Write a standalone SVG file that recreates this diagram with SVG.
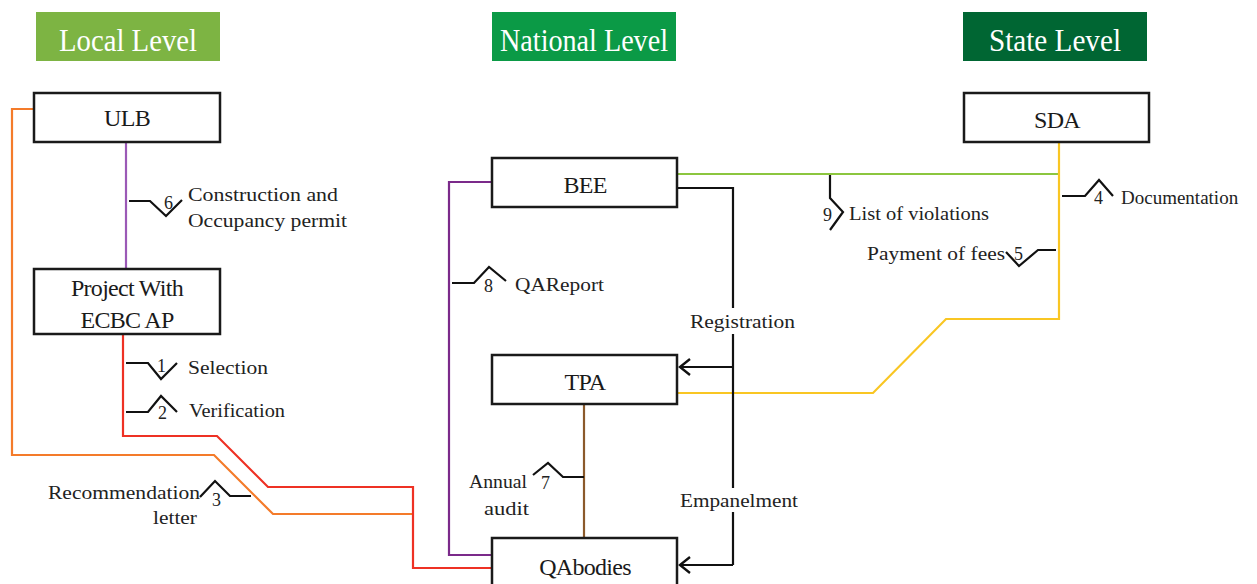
<svg xmlns="http://www.w3.org/2000/svg" width="1257" height="584" viewBox="0 0 1257 584">
<style>
text{font-family:"Liberation Serif","Times New Roman",Times,serif}
.hdr{font-size:32px;fill:#fff;text-anchor:middle}
.box{fill:#fff;stroke:#1a1a1a;stroke-width:2.5}
.bt{font-size:24px;fill:#1a1a1a;text-anchor:middle;letter-spacing:-0.7px}
.lt{font-size:19px;fill:#222}
.num{font-size:18px;fill:#222}
.ln{fill:none;stroke-width:2.2}
.zz{fill:none;stroke:#111;stroke-width:2.2}
</style>
<defs>
<marker id="arr" markerWidth="16" markerHeight="20" refX="12" refY="9" orient="auto" markerUnits="userSpaceOnUse">
<path d="M2,1 L12,9 L2,17" fill="none" stroke="#111" stroke-width="2.4"/>
</marker>
</defs>
<rect width="1257" height="584" fill="#fff"/>

<g id="hdr-local"><rect x="36" y="12" width="184" height="49" fill="#7db443"/><text class="hdr" x="128" y="51" textLength="138" lengthAdjust="spacingAndGlyphs">Local Level</text></g>
<g id="hdr-national"><rect x="492" y="12" width="184" height="49" fill="#0b9a46"/><text class="hdr" x="584" y="51" textLength="168" lengthAdjust="spacingAndGlyphs">National Level</text></g>
<g id="hdr-state"><rect x="963" y="12" width="184" height="49" fill="#006633"/><text class="hdr" x="1055" y="51" textLength="132" lengthAdjust="spacingAndGlyphs">State Level</text></g>

<g id="connectors">
<path class="ln" stroke="#f47b2a" d="M34,109 H12 V455 H214 L273,514 H413"/>
<path class="ln" stroke="#ee3124" d="M123,334 V436 H217 L268,487 H413 V568 H492"/>
<path class="ln" stroke="#9b59b6" d="M126,142 V269"/>
<path class="ln" stroke="#7b2a8a" d="M492,182 H449 V555 H492"/>
<path class="ln" stroke="#8cc63f" d="M677,174 H1059"/>
<path class="ln" stroke="#f9c623" d="M1059,142 V319 H946 L873,393 H677"/>
<path class="ln" stroke="#8b5a2b" d="M584,404 V538"/>
<path class="ln" stroke="#111" d="M677,188 H733 V308"/>
<path class="ln" stroke="#111" d="M733,334 V488"/>
<path class="ln" stroke="#111" d="M733,512 V565"/>
<path class="ln" stroke="#111" d="M733,367 H680" marker-end="url(#arr)"/>
<path class="ln" stroke="#111" d="M733,565 H680" marker-end="url(#arr)"/>
<path class="zz" d="M129,201 H150 L166,216 L182,200"/>
<path class="zz" d="M126,363 H148 L161,379 L177,363"/>
<path class="zz" d="M126,412 H148 L161,396 L177,412"/>
<path class="zz" d="M251,496 H230 L215,481 L200,497"/>
<path class="zz" d="M452,283 H474 L489,267 L506,281"/>
<path class="zz" d="M584,477 H563 L548,463 L533,475"/>
<path class="zz" d="M830,175 V198 L843,212 L830,230"/>
<path class="zz" d="M1062,196 H1085 L1099,180 L1113,196"/>
<path class="zz" d="M1056,250 H1038 L1019,266 L1006,252"/>
<text class="num" x="164" y="209">6</text>
<text class="lt" x="188" y="201" textLength="150" lengthAdjust="spacingAndGlyphs">Construction and</text>
<text class="lt" x="188" y="227" textLength="159" lengthAdjust="spacingAndGlyphs">Occupancy permit</text>
<text class="num" x="157" y="372">1</text>
<text class="lt" x="188" y="374" textLength="80" lengthAdjust="spacingAndGlyphs">Selection</text>
<text class="num" x="158" y="419">2</text>
<text class="lt" x="189" y="417" textLength="96" lengthAdjust="spacingAndGlyphs">Verification</text>
<text class="num" x="212" y="506">3</text>
<text class="lt" x="48" y="499" textLength="152" lengthAdjust="spacingAndGlyphs">Recommendation</text>
<text class="lt" x="153" y="524" textLength="44" lengthAdjust="spacingAndGlyphs">letter</text>
<text class="num" x="484" y="292">8</text>
<text class="lt" x="515" y="291" textLength="89" lengthAdjust="spacingAndGlyphs">QAReport</text>
<text class="lt" x="690" y="328" textLength="105" lengthAdjust="spacingAndGlyphs">Registration</text>
<text class="lt" x="680" y="507" textLength="118" lengthAdjust="spacingAndGlyphs">Empanelment</text>
<text class="num" x="541" y="489">7</text>
<text class="lt" x="469" y="488" textLength="58" lengthAdjust="spacingAndGlyphs">Annual</text>
<text class="lt" x="484" y="515" textLength="45" lengthAdjust="spacingAndGlyphs">audit</text>
<text class="num" x="823" y="221">9</text>
<text class="lt" x="849" y="220" textLength="140" lengthAdjust="spacingAndGlyphs">List of violations</text>
<text class="lt" x="867" y="260" textLength="138" lengthAdjust="spacingAndGlyphs">Payment of fees</text>
<text class="num" x="1014" y="260">5</text>
<text class="num" x="1094" y="204">4</text>
<text class="lt" x="1121" y="204">Documentation</text>
</g>

<g id="node-ulb"><rect class="box" x="34" y="93" width="186" height="49"/><text class="bt" x="127" y="126">ULB</text></g>
<g id="node-project"><rect class="box" x="34" y="269" width="186" height="65"/><text class="bt" x="127" y="296">Project With</text><text class="bt" x="127" y="328">ECBC AP</text></g>
<g id="node-bee"><rect class="box" x="492" y="158" width="185" height="49"/><text class="bt" x="585" y="193">BEE</text></g>
<g id="node-tpa"><rect class="box" x="492" y="355" width="185" height="49"/><text class="bt" x="585" y="390">TPA</text></g>
<g id="node-qabodies"><rect class="box" x="492" y="538" width="185" height="60"/><text class="bt" x="585" y="575">QAbodies</text></g>
<g id="node-sda"><rect class="box" x="964" y="93" width="185" height="49"/><text class="bt" x="1057" y="128">SDA</text></g>
</svg>
